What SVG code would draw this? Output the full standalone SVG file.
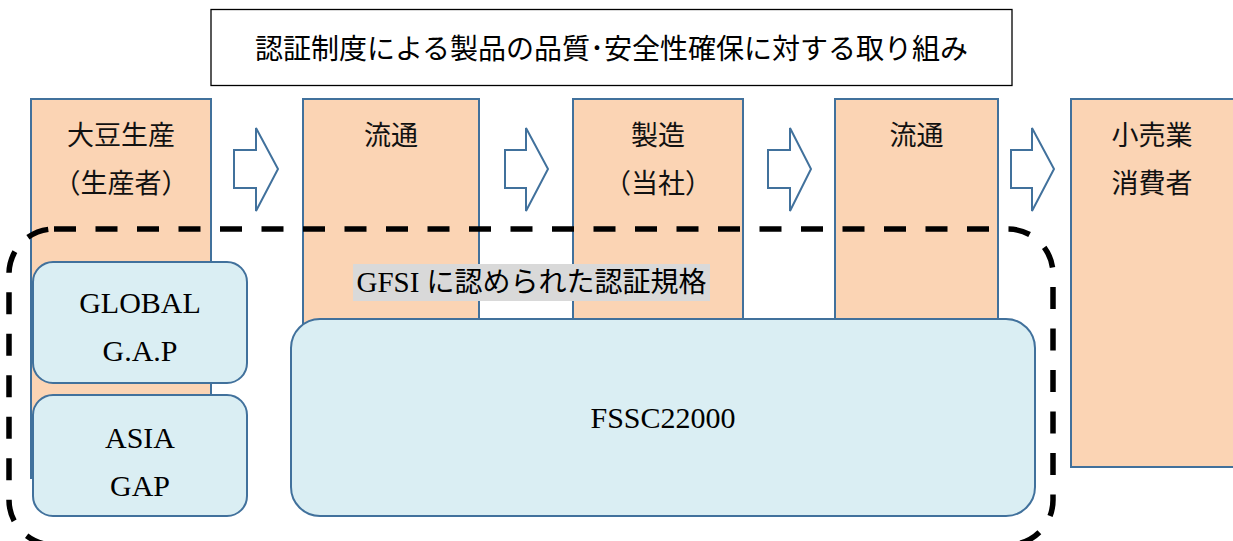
<svg xmlns="http://www.w3.org/2000/svg" width="1233" height="541" viewBox="0 0 1233 541">
<style>
.stage{fill:#FBD4B4;stroke:#41719C;stroke-width:2}
.cert{fill:#DAEEF3;stroke:#41719C;stroke-width:2}
.arrow{fill:#FFFFFF;stroke:#41719C;stroke-width:2;stroke-linejoin:miter}
.jp{font-family:"Noto Sans CJK JP","Noto Sans",sans-serif;font-size:27px;fill:#111;text-anchor:middle}
.title{font-family:"Noto Sans CJK JP","Noto Sans",sans-serif;font-size:28px;font-weight:400;fill:#000;text-anchor:middle}
.en{font-family:"Liberation Serif","Noto Sans CJK JP",serif;font-size:30px;fill:#000;text-anchor:middle}
</style>
<rect width="1233" height="541" fill="#FFFFFF"/>

<g id="title">
<rect x="211" y="9.5" width="801" height="76" fill="#FFFFFF" stroke="#000" stroke-width="1.3"/>
<text class="title" x="611.5" y="58.5">認証制度による製品の品質･安全性確保に対する取り組み</text>
</g>

<g id="stage-soy-production">
<rect class="stage" x="31" y="99" width="180" height="379"/>
<text class="jp" x="121" y="145">大豆生産</text>
<text class="jp" x="121" y="193">（生産者）</text>
</g>
<g id="stage-distribution-1">
<rect class="stage" x="303" y="99" width="176" height="379"/>
<text class="jp" x="391" y="145">流通</text>
</g>
<g id="stage-manufacturing">
<rect class="stage" x="573" y="99" width="170" height="379"/>
<text class="jp" x="658" y="145">製造</text>
<text class="jp" x="658" y="193">（当社）</text>
</g>
<g id="stage-distribution-2">
<rect class="stage" x="835" y="99" width="163" height="379"/>
<text class="jp" x="916.5" y="145">流通</text>
</g>
<g id="stage-retail">
<rect class="stage" x="1071" y="99" width="163" height="368"/>
<text class="jp" x="1152" y="145">小売業</text>
<text class="jp" x="1152" y="193">消費者</text>
</g>

<g id="connectors">
<polygon class="arrow" points="234,150 256,150 256,128 278,169 256,211 256,188 234,188"/>
<polygon class="arrow" points="505,150 526,150 526,128 548,169 526,211 526,188 505,188"/>
<polygon class="arrow" points="768,150 790,150 790,128 811,169 790,211 790,188 768,188"/>
<polygon class="arrow" points="1011,150 1032,150 1032,128 1054,169 1032,211 1032,188 1011,188"/>
</g>

<g id="gfsi-scope">
<rect x="9" y="229" width="1044" height="316" rx="45" ry="45" fill="none" stroke="#000" stroke-width="5.5" stroke-dasharray="22 19.5"/>
</g>

<g id="cert-globalgap">
<rect class="cert" x="33" y="262" width="214" height="121" rx="20" ry="20"/>
<text class="en" x="140" y="313">GLOBAL</text>
<text class="en" x="140" y="361">G.A.P</text>
</g>
<g id="cert-asiagap">
<rect class="cert" x="33" y="395" width="214" height="121" rx="20" ry="20"/>
<text class="en" x="140" y="448">ASIA</text>
<text class="en" x="140" y="496">GAP</text>
</g>
<g id="cert-fssc">
<rect class="cert" x="291" y="319" width="744" height="197" rx="29" ry="29"/>
<text class="en" x="663" y="428">FSSC22000</text>
</g>

<g id="gfsi-label">
<rect x="353" y="264" width="357" height="37" fill="#D9D9D9"/>
<text class="en" x="531.5" y="292" style="font-size:29px">GFSI <tspan style="font-family:'Noto Sans CJK JP',sans-serif;font-size:28px">に認められた認証規格</tspan></text>
</g>
</svg>
